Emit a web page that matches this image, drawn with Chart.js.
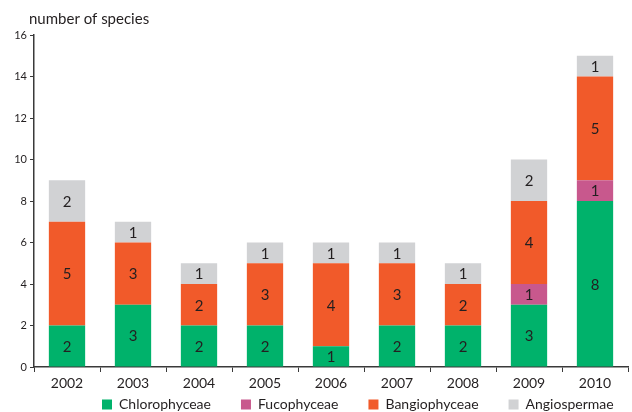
<!DOCTYPE html>
<html>
<head>
<meta charset="utf-8">
<script src="https://cdn.jsdelivr.net/npm/chart.js@4.4.1/dist/chart.umd.min.js"></script>
<style>
  html, body { margin: 0; padding: 0; background: #fff; }
  #wrap { width: 632px; height: 412px; position: relative; }
</style>
</head>
<body>
<div id="wrap"><canvas id="c"></canvas></div>
<script>
// Species counts per year, by group
const years = ['2002', '2003', '2004', '2005', '2006', '2007', '2008', '2009', '2010'];
const chlorophyceae = [2, 3, 2, 2, 1, 2, 2, 3, 8];
const fucophyceae   = [0, 0, 0, 0, 0, 0, 0, 1, 1];
const bangiophyceae = [5, 3, 2, 3, 4, 3, 2, 4, 5];
const angiospermae  = [2, 1, 1, 1, 1, 1, 1, 2, 1];
const yTicks = [0, 2, 4, 6, 8, 10, 12, 14, 16];

const FONT = 'Lato, "Open Sans", sans-serif';
const TEXT = '#231f20';
const AXIS = '#3a3a3a';
const LEGEND_GAP = 30;

// Axis caption above the value axis
const captionPlugin = {
  id: 'caption',
  afterDraw(chart) {
    const ctx = chart.ctx;
    ctx.save();
    ctx.font = '15px ' + FONT;
    ctx.fillStyle = TEXT;
    ctx.textBaseline = 'alphabetic';
    ctx.textAlign = 'left';
    ctx.fillText('number of species', 29, 24);
    ctx.restore();
  }
};

// Compact legend strip below the category labels, starting near the left
const legendPlacement = {
  id: 'legendPlacement',
  beforeLayout(chart) {
    const lg = chart.legend;
    if (lg && !lg._compact) {
      const fit = lg.fit.bind(lg);
      lg.fit = function () { fit(); this.height = 21; };
      lg._compact = true;
    }
  },
  afterLayout(chart) {
    const lg = chart.legend;
    if (!lg) return;
    const w = lg.right - lg.left;
    lg.left = 102 - LEGEND_GAP;
    lg.right = lg.left + w;
    // row centre sits at about y = 406
    lg.top = 406 - 8.4 - LEGEND_GAP;
    lg.bottom = chart.height;
  }
};

// Segment counts written in the middle of each stacked block
const segmentLabels = {
  id: 'segmentLabels',
  afterDatasetsDraw(chart) {
    const ctx = chart.ctx;
    ctx.save();
    ctx.font = '15px ' + FONT;
    ctx.fillStyle = TEXT;
    ctx.textAlign = 'center';
    ctx.textBaseline = 'middle';
    chart.data.datasets.forEach((ds, i) => {
      const meta = chart.getDatasetMeta(i);
      meta.data.forEach((bar, j) => {
        const v = ds.data[j];
        if (!v) return;
        const p = bar.getProps(['x', 'y', 'base'], true);
        ctx.fillText(String(v), p.x, (p.y + p.base) / 2 + 1);
      });
    });
    ctx.restore();
  }
};

new Chart(document.getElementById('c'), {
  type: 'bar',
  data: {
    labels: years,
    datasets: [
      { label: 'Chlorophyceae', data: chlorophyceae, backgroundColor: '#00b26b' },
      { label: 'Fucophyceae',   data: fucophyceae,   backgroundColor: '#c8588d' },
      { label: 'Bangiophyceae', data: bangiophyceae, backgroundColor: '#f15a2a' },
      { label: 'Angiospermae',  data: angiospermae,  backgroundColor: '#d1d2d4' }
    ]
  },
  options: {
    responsive: true,
    maintainAspectRatio: false,
    animation: false,
    datasets: { bar: { categoryPercentage: 1, barPercentage: 0.55, borderWidth: 0 } },
    layout: { padding: { top: 35, right: 4, left: 0, bottom: 0 } },
    plugins: {
      tooltip: { enabled: false },
      legend: {
        position: 'bottom',
        align: 'start',
        labels: {
          font: { family: FONT, size: 14 },
          color: TEXT,
          boxWidth: 10,
          boxHeight: 10,
          padding: LEGEND_GAP
        }
      }
    },
    scales: {
      x: {
        stacked: true,
        afterFit(s) { s.height = 24; },
        border: { color: AXIS, width: 1.5 },
        grid: { drawOnChartArea: false, offset: true, tickLength: 5, color: AXIS, lineWidth: 1 },
        ticks: { font: { family: FONT, size: 14 }, color: TEXT, padding: 3 }
      },
      y: {
        stacked: true,
        min: 0,
        max: 16,
        afterFit(s) { s.width = 34; },
        afterBuildTicks(s) { s.ticks = yTicks.map(v => ({ value: v })); },
        border: { color: AXIS, width: 1.5 },
        grid: { drawOnChartArea: false, tickLength: 4, color: AXIS, lineWidth: 1 },
        ticks: { font: { family: FONT, size: 11 }, color: TEXT, padding: 3 }
      }
    }
  },
  plugins: [captionPlugin, legendPlacement, segmentLabels]
});
</script>
</body>
</html>
